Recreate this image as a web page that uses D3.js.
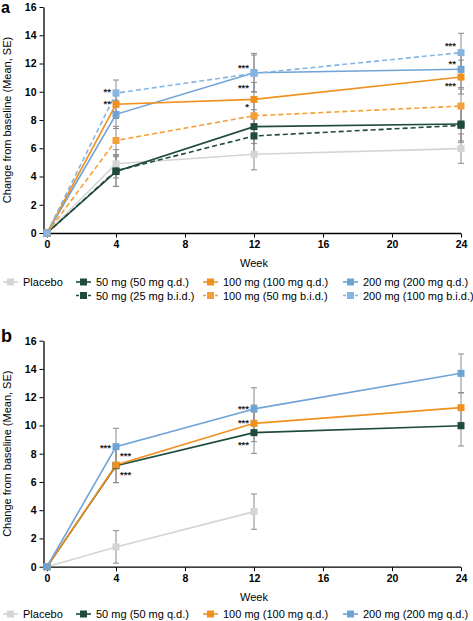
<!DOCTYPE html>
<html><head><meta charset="utf-8">
<script src="https://cdn.jsdelivr.net/npm/d3@7"></script>
<style>body{margin:0;background:#fff}svg{font-family:"Liberation Sans",Arial,sans-serif}</style>
</head><body><svg id="c" width="473" height="621"></svg>
<script>
const weeks = [0, 4, 12, 24];
const yTicks = [0, 2, 4, 6, 8, 10, 12, 14, 16];
const xTicks = [0, 4, 8, 12, 16, 20, 24];

// Panel a series (means and SE)
const placeboA   = [0, 4.9, 5.57, 5.97];   const placeboA_se   = [0, 1.0, 1.1, 1.04];
const mg50qdA    = [0, 4.35, 7.53, 7.72];  const mg50qdA_se    = [0, 1.05, 1.2, 1.2];
const mg100qdA   = [0, 9.11, 9.46, 11.04]; const mg100qdA_se   = [0, 1.0, 1.2, 1.2];
const mg200qdA   = [0, 8.4, 11.35, 11.59]; const mg200qdA_se   = [0, 1.0, 1.37, 1.3];
const mg50bidA   = [0, 4.4, 6.87, 7.62];   const mg50bidA_se   = [0, 1.1, 1.2, 1.2];
const mg100bidA  = [0, 6.55, 8.3, 8.99];   const mg100bidA_se  = [0, 1.0, 1.2, 1.2];
const mg200bidA  = [0, 9.9, 11.3, 12.77];  const mg200bidA_se  = [0, 0.93, 1.3, 1.37];

// Panel b series
const placeboB   = [0, 1.4, 3.9, null];    const placeboB_se   = [0, 1.15, 1.25, null];
const mg50B      = [0, 7.15, 9.49, 9.98];  const mg50B_se      = [0, 1.2, 1.47, 1.43];
const mg100B     = [0, 7.2, 10.15, 11.26]; const mg100B_se     = [0, 1.25, 1.3, 1.04];
const mg200B     = [0, 8.5, 11.17, 13.69]; const mg200B_se     = [0, 1.3, 1.5, 1.37];

// Significance annotations: [week, value, text, side]
const starsA = [[4,10.1,"**","l"],[4,9.22,"**","l"],[12,11.77,"***","l"],[12,10.4,"***","l"],[12,9.06,"*","l"],
                [24,13.36,"***","l"],[24,12.08,"**","l"],[24,10.53,"***","l"]];
const starsB = [[4,8.54,"***","l"],[4,7.96,"***","r"],[4,6.61,"***","r"],
                [12,11.28,"***","l"],[12,10.27,"***","l"],[12,8.73,"***","l"]];

const labelsA = ["Placebo","50 mg (50 mg q.d.)","100 mg (100 mg q.d.)","200 mg (200 mg q.d.)",
                 "50 mg (25 mg b.i.d.)","100 mg (50 mg b.i.d.)","200 mg (100 mg b.i.d.)"];
const labelsB = ["Placebo","50 mg (50 mg q.d.)","100 mg (100 mg q.d.)","200 mg (200 mg q.d.)"];

const COL = {pl:"#d4d4d4", g:"#1e4b3c", o:"#f0901f", b:"#6fa3d6", o2:"#f3a03a", b2:"#86b5e1"};

const seriesA = [
  {v:placeboA, se:placeboA_se, c:COL.pl, d:false, name:labelsA[0]},
  {v:mg50bidA, se:mg50bidA_se, c:COL.g, d:true, name:labelsA[4]},
  {v:mg100bidA, se:mg100bidA_se, c:COL.o2, d:true, name:labelsA[5]},
  {v:mg50qdA, se:mg50qdA_se, c:COL.g, d:false, name:labelsA[1]},
  {v:mg200qdA, se:mg200qdA_se, c:COL.b, d:false, name:labelsA[3]},
  {v:mg100qdA, se:mg100qdA_se, c:COL.o, d:false, name:labelsA[2]},
  {v:mg200bidA, se:mg200bidA_se, c:COL.b2, d:true, name:labelsA[6]},
];
const seriesB = [
  {v:placeboB, se:placeboB_se, c:COL.pl, d:false},
  {v:mg50B, se:mg50B_se, c:COL.g, d:false},
  {v:mg100B, se:mg100B_se, c:COL.o, d:false},
  {v:mg200B, se:mg200B_se, c:COL.b, d:false},
];
const legendA = [
  [{c:COL.pl,d:false,t:labelsA[0]},{c:COL.g,d:false,t:labelsA[1]},{c:COL.o,d:false,t:labelsA[2]},{c:COL.b,d:false,t:labelsA[3]}],
  [null,{c:COL.g,d:true,t:labelsA[4]},{c:COL.o2,d:true,t:labelsA[5]},{c:COL.b2,d:true,t:labelsA[6]}]
];
const legendB = [
  [{c:COL.pl,d:false,t:labelsB[0]},{c:COL.g,d:false,t:labelsB[1]},{c:COL.o,d:false,t:labelsB[2]},{c:COL.b,d:false,t:labelsB[3]}]
];

const svg = d3.select("#c");
const x = d3.scaleLinear().domain([0,24]).range([47,461]);
const legX = [3, 76, 203, 343];

function panel(opt){
  const y = d3.scaleLinear().domain([0,16]).range([opt.y0, opt.y0 - 226]);
  const g = svg.append("g");
  // panel letter
  g.append("text").attr("x",1).attr("y",opt.letterY).attr("font-size",opt.letterSize).attr("font-weight","bold").text(opt.letter);
  // y axis
  const ya = g.append("g").attr("transform",`translate(43.5,0)`)
    .call(d3.axisLeft(y).tickValues(yTicks).tickSize(4).tickPadding(3).tickSizeOuter(0));
  ya.select(".domain").attr("stroke","#000").attr("stroke-width",1.3);
  ya.selectAll("text").attr("font-size",10.5).attr("font-weight","bold").attr("font-family","Liberation Sans, Arial");
  // x axis
  const xa = g.append("g").attr("transform",`translate(0,${opt.y0+0.5})`)
    .call(d3.axisBottom(x).tickValues(xTicks).tickSize(4).tickPadding(3).tickSizeOuter(0));
  xa.select(".domain").attr("d",`M43.5,0H${x(24)}`).attr("stroke-width",1.3);
  xa.selectAll("text").attr("font-size",10.5).attr("font-weight","bold").attr("font-family","Liberation Sans, Arial");
  // y label
  g.append("text").attr("transform",`translate(11,${opt.y0-113}) rotate(-90)`).attr("text-anchor","middle")
    .attr("font-size",11).text("Change from baseline (Mean, SE)");
  g.append("text").attr("x",x(12)).attr("y",opt.y0+34).attr("text-anchor","middle").attr("font-size",11).text("Week");

  const pts = s => weeks.map((w,i)=>({w, v:s.v[i], se:s.se[i]})).filter(p=>p.v!=null);
  // error bars
  opt.series.forEach(s=>{
    pts(s).filter(p=>p.se>0).forEach(p=>{
      const eg = g.append("g").attr("stroke","#8a8a8a").attr("stroke-width",1);
      eg.append("line").attr("x1",x(p.w)).attr("x2",x(p.w)).attr("y1",y(p.v-p.se)).attr("y2",y(p.v+p.se));
      [p.v-p.se,p.v+p.se].forEach(e=>eg.append("line").attr("x1",x(p.w)-3).attr("x2",x(p.w)+3).attr("y1",y(e)).attr("y2",y(e)));
    });
  });
  // lines
  const line = d3.line().x(p=>x(p.w)).y(p=>y(p.v));
  opt.series.forEach(s=>{
    g.append("path").datum(pts(s)).attr("d",line).attr("fill","none").attr("stroke",s.c).attr("stroke-width",1.6)
      .attr("stroke-dasharray",s.d?"5,3":null);
  });
  // markers
  opt.series.forEach(s=>{
    g.selectAll(null).data(pts(s)).enter().append("rect")
      .attr("x",p=>x(p.w)-3.5).attr("y",p=>y(p.v)-3.5).attr("width",7).attr("height",7).attr("fill",s.c);
  });
  // stars
  g.selectAll(null).data(opt.stars).enter().append("text")
    .attr("x",d=> d[3]==="l" ? x(d[0])-5 : x(d[0])+4)
    .attr("y",d=>y(d[1])+4.5)
    .attr("text-anchor",d=>d[3]==="l"?"end":"start")
    .attr("font-size",9.5).attr("font-weight","bold").attr("fill","#222").text(d=>d[2]);
  // legend
  opt.legend.forEach((row,ri)=>{
    row.forEach((it,ci)=>{
      if(!it) return;
      const ly = opt.legY + ri*13.5, lx = legX[ci];
      const lg = g.append("g");
      lg.append("line").attr("x1",lx).attr("x2",lx+15).attr("y1",ly).attr("y2",ly).attr("stroke",it.c).attr("stroke-width",1.6)
        .attr("stroke-dasharray",it.d?"3,3":null);
      lg.append("rect").attr("x",lx+4).attr("y",ly-3.5).attr("width",7).attr("height",7).attr("fill",it.c);
      lg.append("text").attr("x",lx+20).attr("y",ly+4).attr("font-size",11).text(it.t);
    });
  });
}

panel({y0:233, letter:"a", letterY:13, letterSize:16, series:seriesA, stars:starsA, legend:legendA, legY:282});
panel({y0:566.7, letter:"b", letterY:342, letterSize:18, series:seriesB, stars:starsB, legend:legendB, legY:614});
</script></body></html>
